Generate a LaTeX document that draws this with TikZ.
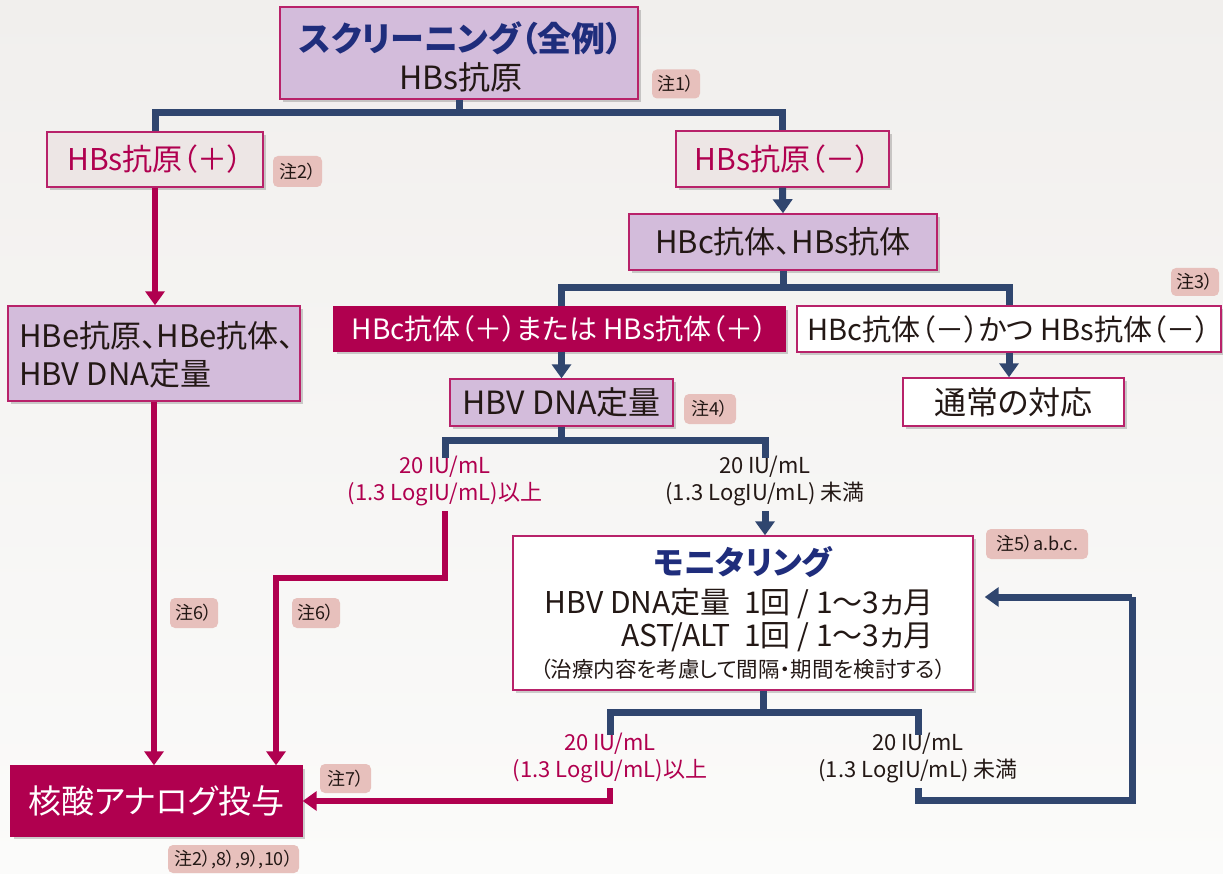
\documentclass[tikz,border=0pt]{standalone}
\usepackage{fontspec}
\setmainfont[RawFeature={+palt}]{Noto Sans CJK JP}
\usetikzlibrary{arrows.meta,shadows}
\definecolor{navy}{HTML}{30466F}
\definecolor{mag}{HTML}{B0004F}
\definecolor{magb}{HTML}{B8226A}
\definecolor{lav}{HTML}{D3BCDB}
\definecolor{pale}{HTML}{EDE6E5}
\definecolor{notec}{HTML}{E7C0BC}
\definecolor{ttl}{HTML}{1F2D7C}
\definecolor{ink}{HTML}{231815}
\definecolor{bgtop}{HTML}{F1EFED}
\definecolor{bgbot}{HTML}{FBFBFA}
\tikzset{
  basebox/.style={draw=magb, line width=1.4pt, inner sep=0pt, text=ink,
    drop shadow={shadow xshift=3pt, shadow yshift=-3pt, fill=black, opacity=0.18}},
  lavbox/.style={basebox, fill=lav},
  palebox/.style={basebox, fill=pale, text=mag},
  whitebox/.style={basebox, fill=white},
  magbox/.style={basebox, fill=mag, draw=mag, text=white},
  note/.style={fill=notec, rounded corners=5pt, inner sep=0pt, text=ink,
    font=\fontsize{18pt}{21pt}\selectfont},
  txt/.style={inner sep=0pt, text=ink},
  navyline/.style={draw=navy, line width=7pt},
  magline/.style={draw=mag, line width=6pt},
  navyarrow/.style={navyline, -{Triangle[width=19pt,length=14pt]}},
  magarrow/.style={magline, -{Triangle[width=19pt,length=14pt]}},
  lab/.style={inner sep=0pt, align=center, font=\fontsize{22pt}{27pt}\selectfont},
}
\begin{document}
\begin{tikzpicture}[x=1pt,y=-1pt]
\useasboundingbox (0,0) rectangle (1223,874);
\fill[top color=bgtop, bottom color=bgbot] (0,0) rectangle (1223,874);

% boxes
\node[lavbox, minimum width=358pt, minimum height=92pt] (top) at (459,53) {};
\node[txt, text=ttl, font=\fontsize{34pt}{38pt}\selectfont\bfseries] (toptitle) at (461,38) {スクリーニング（全例）};
\node[txt, font=\fontsize{32pt}{36pt}\selectfont] (topsub) at (461,77) {HBs抗原};
\node[note, minimum width=48pt, minimum height=29pt] (n1) at (676,84) {注1）};

\node[palebox, minimum width=216pt, minimum height=55pt, font=\fontsize{30pt}{34pt}\selectfont] (hbsp) at (155,159.5) {HBs抗原（＋）};
\node[note, minimum width=49pt, minimum height=31pt] (n2) at (297.5,171.5) {注2）};
\node[palebox, minimum width=213pt, minimum height=56pt, font=\fontsize{30pt}{34pt}\selectfont] (hbsm) at (782.5,159) {HBs抗原（－）};

\node[lavbox, minimum width=308pt, minimum height=56pt, font=\fontsize{31pt}{35pt}\selectfont] (hbc) at (783,242) {HBc抗体、HBs抗体};

\node[magbox, minimum width=451pt, minimum height=44pt, font=\fontsize{28pt}{32pt}\selectfont] (hbcp) at (559.5,329) {HBc抗体（＋）または HBs抗体（＋）};
\node[whitebox, minimum width=424pt, minimum height=46pt, font=\fontsize{29pt}{33pt}\selectfont] (hbcm) at (1009,329) {HBc抗体（－）かつ HBs抗体（－）};
\node[note, minimum width=48pt, minimum height=28pt] (n3) at (1195,282) {注3）};

\node[lavbox, minimum width=223pt, minimum height=47pt, font=\fontsize{32pt}{36pt}\selectfont] (dna) at (561.5,402.5) {HBV DNA定量};
\node[note, minimum width=52pt, minimum height=30pt] (n4) at (710,409) {注4）};
\node[whitebox, minimum width=221pt, minimum height=48pt, font=\fontsize{32pt}{36pt}\selectfont] (tsujo) at (1013.5,402) {通常の対応};

\node[lavbox, minimum width=292pt, minimum height=95pt] (hbe) at (154,353.5) {};
\node[txt, anchor=west, font=\fontsize{31pt}{35pt}\selectfont] (hbe1) at (19,336) {HBe抗原、HBe抗体、};
\node[txt, anchor=west, font=\fontsize{31pt}{35pt}\selectfont] (hbe2) at (19,374) {HBV DNA定量};

\node[magbox, minimum width=291pt, minimum height=70pt, font=\fontsize{33pt}{37pt}\selectfont] (kakusan) at (156.5,801) {核酸アナログ投与};
\node[note, minimum width=131pt, minimum height=28pt] (n8) at (233.5,859) {注2）,8）,9）,10）};
\node[note, minimum width=51pt, minimum height=29pt] (n7) at (345.5,778.5) {注7）};

\node[whitebox, minimum width=460pt, minimum height=154pt] (mon) at (743,613) {};
\node[txt, text=ttl, font=\fontsize{32pt}{36pt}\selectfont\bfseries] (montitle) at (743,562) {モニタリング};
\node[txt, anchor=east, font=\fontsize{30pt}{34pt}\selectfont] (monl1) at (934,604) {HBV DNA定量\hspace{0.45em}1回 / 1〜3ヵ月};
\node[txt, anchor=east, font=\fontsize{30pt}{34pt}\selectfont] (monl2) at (934,637) {AST/ALT\hspace{0.45em}1回 / 1〜3ヵ月};
\node[txt, font=\fontsize{21.5pt}{26pt}\selectfont] (monl3) at (743,669) {（治療内容を考慮して間隔・期間を検討する）};
\node[note, minimum width=102pt, minimum height=30pt] (n5) at (1037,544) {注5）a.b.c.};

\node[note, minimum width=48pt, minimum height=30pt] (n6a) at (194,613) {注6）};
\node[note, minimum width=48pt, minimum height=30pt] (n6b) at (316,613) {注6）};

% labels
\node[lab, text=mag] (lab1) at (445,481) {20 IU/mL\\(1.3 LogIU/mL)以上};
\node[lab, text=ink] (lab2) at (765,481) {20 IU/mL\\(1.3 LogIU/mL) 未満};
\node[lab, text=mag] (lab3) at (610,758) {20 IU/mL\\(1.3 LogIU/mL)以上};
\node[lab, text=ink] (lab4) at (918,758) {20 IU/mL\\(1.3 LogIU/mL) 未満};

% connectors
\coordinate (j1) at (459,113);
\draw[navyline] (top.south) -- (j1);
\draw[navyline] (hbsp.north) |- (j1) -| (hbsm.north);
\draw[magarrow] (hbsp.south) -- (hbsp.south |- hbe.north);
\draw[navyarrow] (hbsm.south) -- (hbc.north);

\coordinate (j2) at (783,288);
\draw[navyline] (hbc.south) -- (j2);
\draw[navyline] (hbcp.north -| dna.north) |- (j2) -| (hbcm.north);
\draw[navyarrow] (dna.north |- hbcp.south) -- (dna.north);
\draw[navyarrow] (hbcm.south) -- (hbcm.south |- tsujo.north);

\coordinate (j3) at (561.5,440);
\draw[navyline] (dna.south) -- (j3);
\draw[navyline] ([yshift=-2pt]lab1.north) |- (j3) -| ([yshift=-2pt]lab2.north);
\draw[navyarrow, shorten <=5pt] (lab2.south) -- (lab2.south |- mon.north);
\coordinate (b1) at (276,578);
\draw[magarrow, shorten <=5pt] (lab1.south) |- (b1) -- (b1 |- kakusan.north);
\draw[magarrow] (hbe.south) -- (hbe.south |- kakusan.north);

\coordinate (j4) at (763,712);
\draw[navyline] (j4 |- mon.south) -- (j4);
\draw[navyline] ([yshift=-2pt]lab3.north) |- (j4) -| ([yshift=-2pt]lab4.north);
\draw[magarrow, shorten <=5pt] (lab3.south) |- (kakusan.east);
\coordinate (r1) at (1132,800);
\coordinate (r2) at (1132,597);
\draw[navyline, shorten <=5pt] (lab4.south) |- (r1) -- (r2);
\draw[navyarrow, shorten >=11pt] (r2) -- (mon.east |- r2);
\end{tikzpicture}
\end{document}
